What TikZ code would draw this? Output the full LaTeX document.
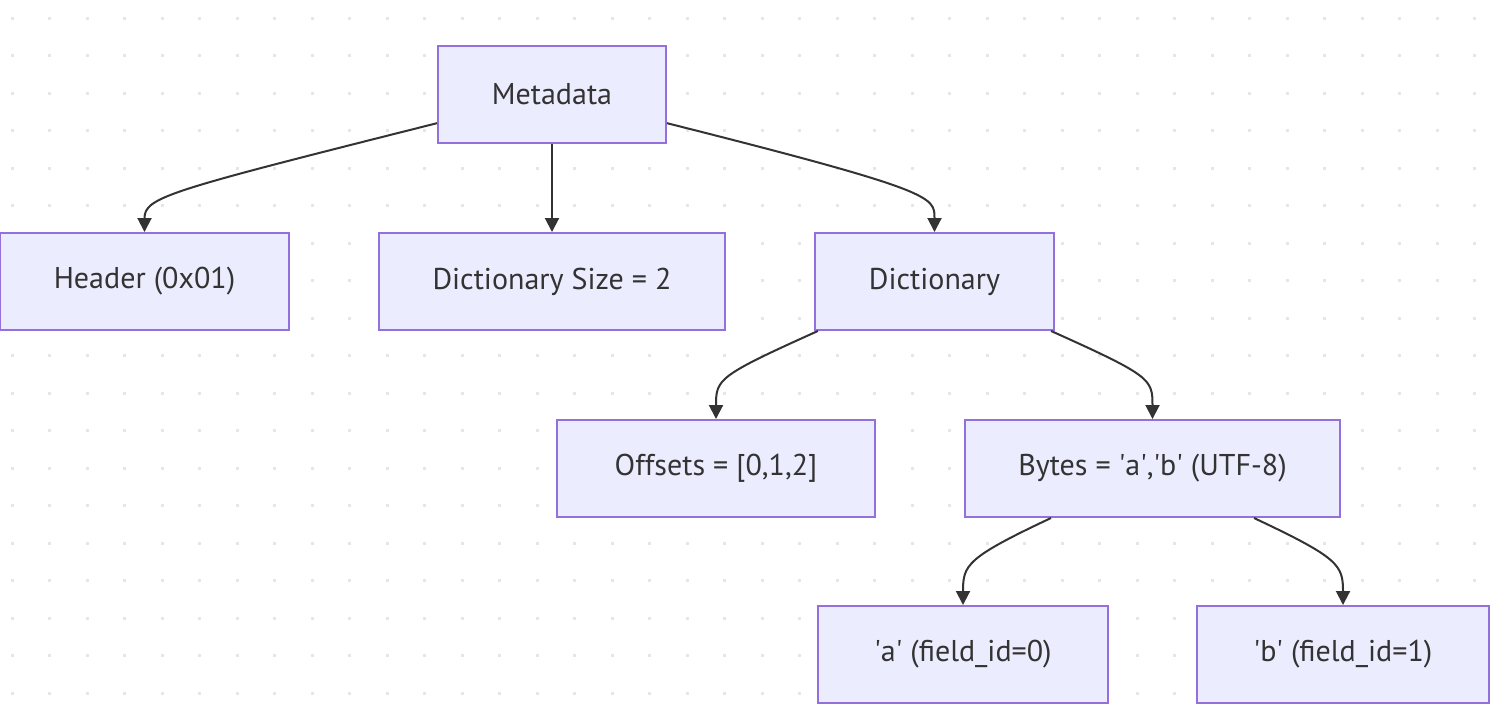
\documentclass[tikz,border=0pt]{standalone}
\usepackage{fontspec}
\setmainfont{PT Sans}
\usepackage{tikz}
\usetikzlibrary{arrows.meta,positioning}
\definecolor{boxfill}{HTML}{ECECFF}
\definecolor{boxline}{HTML}{9370DB}
\definecolor{ink}{HTML}{333333}
\definecolor{dotgray}{HTML}{E6E6E6}
\tikzset{
  box/.style={draw=boxline,fill=boxfill,line width=0.04cm,minimum height=1.94cm,
    text=ink,font=\fontsize{17.1}{20}\selectfont,inner sep=0pt},
  link/.style={draw=ink,line width=0.04cm,-{Triangle[length=0.28cm,width=0.28cm]}}
}
\begin{document}
\begin{tikzpicture}[x=0.02cm,y=-0.02cm]
\useasboundingbox (0,0) rectangle (1497,708);
%dotted background
\foreach \i in {0,...,39}{\foreach \j in {0,...,18}{
  \fill[dotgray] ({12+37.5*\i-1.5},{18+37.5*\j-1.5}) rectangle +(3,3);}}
%top
\node[box,minimum width=4.56cm] (meta) at (552,94.5) {Metadata};
%second row
\node[box,minimum width=5.78cm] (header) at (144.5,281.5) {Header (0x01)};
\node[box,minimum width=6.92cm] (size) at (552,281.5) {Dictionary Size = 2};
\node[box,minimum width=4.78cm] (dict) at (934.5,281.5) {Dictionary};
%third row
\node[box,minimum width=6.36cm] (offsets) at (716,468.5) {Offsets = [0,1,2]};
\node[box,minimum width=7.5cm] (bytes) at (1152.5,468.5) {Bytes = \textquotesingle a\textquotesingle,\textquotesingle b\textquotesingle{} (UTF-8)};
%leaves
\node[box,minimum width=5.8cm] (fa) at (963,654.5) {\textquotesingle a\textquotesingle{} (field\_id=0)};
\node[box,minimum width=5.84cm] (fb) at (1343,654.5) {\textquotesingle b\textquotesingle{} (field\_id=1)};
%edges
\draw[link] (meta.-166) .. controls +(-270,68) and +(0,-35) .. (header.north);
\draw[link] (meta.south) -- (size.north);
\draw[link] (meta.-14) .. controls +(270,68) and +(0,-35) .. (dict.north);
\draw[link] (dict.-157) .. controls +(-100,45) and +(0,-40) .. (offsets.north);
\draw[link] (dict.-23) .. controls +(100,45) and +(0,-40) .. (bytes.north);
\draw[link] (bytes.-154) .. controls +(-85,40) and +(0,-40) .. (fa.north);
\draw[link] (bytes.-26) .. controls +(85,40) and +(0,-40) .. (fb.north);
\end{tikzpicture}
\end{document}
